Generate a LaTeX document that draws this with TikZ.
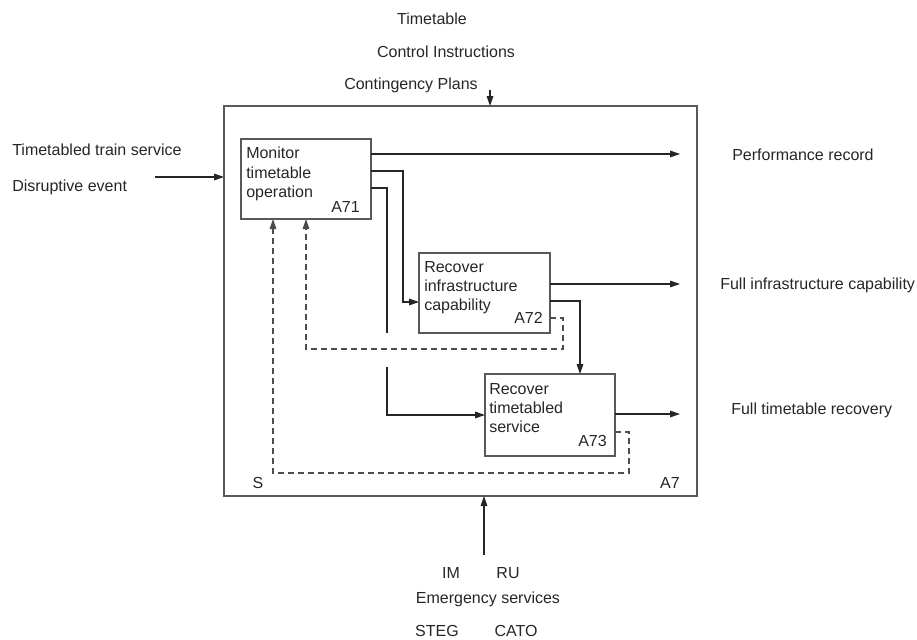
\documentclass[tikz,border=0pt]{standalone}
\usepackage{fontspec}
\setmainfont{Liberation Sans}
\usetikzlibrary{arrows.meta,calc}
\begin{document}
\begin{tikzpicture}[x=0.75pt,y=-0.75pt,
  txt/.style={font=\fontsize{12}{14.4}\selectfont, inner sep=0pt, text=black!85},
  box/.style={draw=black!65, line width=0.8pt, inner sep=0pt, outer sep=0pt},
  arr/.style={draw=black!85, line width=0.8pt, -{Triangle[length=7.5pt,width=5pt]}},
  flow/.style={draw=black!85, line width=0.8pt},
  fb/.style={draw=black!70, line width=0.8pt, dash pattern=on 4.5pt off 3pt,
             -{Triangle[length=7.5pt,width=5pt]}}]
\useasboundingbox (0,0) rectangle (917,639);

% activity boxes
\node[box, minimum width=354.75pt, minimum height=292.5pt] (a7)  at (460.5,301) {};
\node[box, minimum width=97.5pt,   minimum height=60pt]    (a71) at (306,179)   {};
\node[box, minimum width=98.25pt,  minimum height=60pt]    (a72) at (484.5,293) {};
\node[box, minimum width=97.5pt,   minimum height=61.5pt]  (a73) at (550,415)   {};

% box texts
\node[txt, anchor=north west, align=left] (t71) at ($(a71.north west)+(5,8)$) {Monitor\\timetable\\operation};
\node[txt, anchor=south east] (l71) at ($(a71.south east)+(-11,-6)$) {A71};
\node[txt, anchor=north west, align=left] (t72) at ($(a72.north west)+(5,8)$) {Recover\\infrastructure\\capability};
\node[txt, anchor=south east] (l72) at ($(a72.south east)+(-7,-9)$) {A72};
\node[txt, anchor=north west, align=left] (t73) at ($(a73.north west)+(4,9)$) {Recover\\timetabled\\service};
\node[txt, anchor=south east] (l73) at ($(a73.south east)+(-8,-9)$) {A73};
\node[txt] (ls) at (258,483) {S};
\node[txt] (la7) at (670,483) {A7};

% controls
\node[txt] (ctl1) at (432,19) {Timetable};
\node[txt] (ctl2) at (446,52) {Control Instructions};
\node[txt] (ctl3) at (411,85) {Contingency Plans};

% inputs
\node[txt, anchor=west] (in1) at (12,150) {Timetabled train service};
\node[txt, anchor=west] (in2) at (12,187) {Disruptive event};

% outputs
\node[txt, anchor=west] (out1) at (732,155) {Performance record};
\node[txt, anchor=west] (out2) at (720,285) {Full infrastructure capability};
\node[txt, anchor=west] (out3) at (731,410) {Full timetable recovery};

% mechanisms
\node[txt] (m1) at (451,573) {IM};
\node[txt] (m2) at (508,573) {RU};
\node[txt] (m3) at (488,599) {Emergency services};
\node[txt] (m4) at (437,631) {STEG};
\node[txt] (m5) at (516,631) {CATO};

% free ends of the boundary arrows
\coordinate (ctlEnd) at (490,90);
\coordinate (inEnd)  at (155,177);
\coordinate (mecEnd) at (484,555);
\coordinate (o1) at (680,154);
\coordinate (o2) at (680,284);
\coordinate (o3) at (680,414);

% boundary arrows
\draw[arr] (ctlEnd) -- (ctlEnd |- a7.north);
\draw[arr] (inEnd) -- (inEnd -| a7.west);
\draw[arr] (mecEnd) -- (mecEnd |- a7.south);

% outputs of A71
\draw[arr] ($(a71.north east)+(0,15)$) -- (o1);
\draw[arr] ($(a71.north east)+(0,32)$) -| (403,302) -- (403,302 -| a72.west);
\draw[flow] ($(a71.north east)+(0,49)$) -| (387,333);
\draw[arr] (387,367) -- (387,415) -- (387,415 -| a73.west);

% outputs of A72
\draw[arr] ($(a72.north east)+(0,31)$) -- (o2);
\draw[arr] ($(a72.north east)+(0,48)$) -| (a73.north -| 580,0);

% output of A73
\draw[arr] ($(a73.north east)+(0,40)$) -- (o3);

% feedback loops
\draw[fb] ($(a72.north east)+(0,65)$) -| (563,349) -| (a71.south -| 306,0);
\draw[fb] ($(a73.north east)+(0,58)$) -| (629,473) -| (a71.south -| 273,0);
\end{tikzpicture}
\end{document}
